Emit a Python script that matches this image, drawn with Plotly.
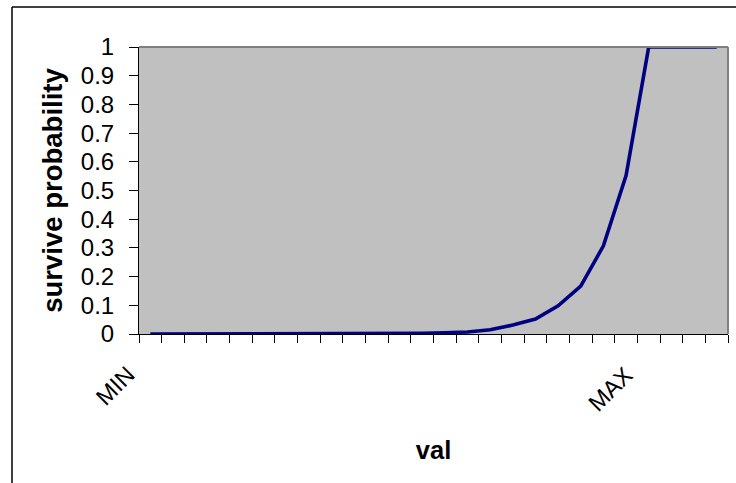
import plotly.graph_objects as go

# 26 categories between MIN and MAX (only two are labelled)
x_labels = ["MIN"] + [""] * 21 + ["MAX"] + [""] * 3
survive = [0.0, 0.0, 0.0, 0.0001, 0.0001, 0.0001, 0.0002, 0.0003, 0.0005,
           0.0008, 0.0012, 0.0018, 0.0025, 0.004, 0.007, 0.015, 0.031,
           0.052, 0.098, 0.167, 0.307, 0.552, 1.0, 1.0, 1.0, 1.0]
y_ticks = [round(i * 0.1, 1) for i in range(11)]
y_ticktext = ["0", "0.1", "0.2", "0.3", "0.4", "0.5", "0.6", "0.7", "0.8", "0.9", "1"]

xs = list(range(len(x_labels)))

FONT = "Liberation Sans, Arial, sans-serif"

fig = go.Figure()
fig.add_trace(go.Scatter(
    x=xs, y=survive, mode="lines",
    line=dict(color="#000080", width=3.6),
    hoverinfo="skip", showlegend=False,
))

annotations = [
    dict(x=i, xref="x", y=0, yref="paper", text=t, showarrow=False,
         textangle=-45, xanchor="right", yanchor="top", xshift=-8, yshift=-25,
         font=dict(size=23.5, family=FONT, color="black"))
    for i, t in enumerate(x_labels) if t
]

fig.update_layout(
    width=736, height=483,
    margin=dict(l=139, r=8, t=47, b=149),
    paper_bgcolor="white",
    plot_bgcolor="#C0C0C0",
    font=dict(family=FONT, color="black"),
    annotations=annotations,
    xaxis=dict(
        range=[-0.5, len(x_labels) - 0.5],
        showticklabels=False, ticks="", showgrid=False, zeroline=False,
        showline=True, linecolor="black", linewidth=1,
        minor=dict(tickmode="linear", tick0=-0.5, dtick=1, ticks="outside",
                   ticklen=8, tickcolor="black", tickwidth=1, showgrid=False),
        title=dict(text="<b>val</b>", font=dict(size=25.5, family=FONT), standoff=107),
    ),
    yaxis=dict(
        range=[0, 1], tickmode="array", tickvals=y_ticks, ticktext=y_ticktext,
        ticks="outside", ticklen=9, tickcolor="black", tickwidth=1,
        showgrid=False, zeroline=False,
        showline=True, linecolor="black", linewidth=1,
        tickfont=dict(size=24, family=FONT),
        ticklabelstandoff=10,
        title=dict(text="<b>survive probability</b>", font=dict(size=27.5, family=FONT), standoff=10),
    ),
    shapes=[
        dict(type="line", xref="paper", yref="paper", x0=0, x1=1, y0=1, y1=1,
             line=dict(color="#808080", width=2)),
        dict(type="line", xref="paper", yref="paper", x0=1, x1=1, y0=0, y1=1,
             line=dict(color="#808080", width=2)),
        dict(type="line", xref="paper", yref="paper", x0=-0.2156, x1=1.05, y0=1.139, y1=1.139,
             line=dict(color="black", width=1.5)),
        dict(type="line", xref="paper", yref="paper", x0=-0.2156, x1=-0.2156, y0=1.139, y1=-0.6,
             line=dict(color="black", width=1.5)),
    ],
)

fig.write_html("out.html")
